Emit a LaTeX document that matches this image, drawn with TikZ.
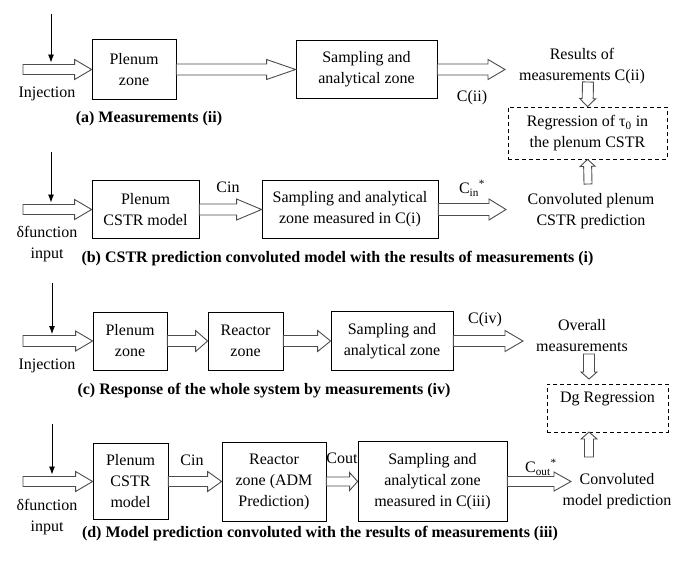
\documentclass[tikz,border=0pt]{standalone}
\usepackage{fontspec}
\setmainfont{Liberation Serif}
\usepackage{tikz}
\usetikzlibrary{arrows.meta}
\usetikzlibrary{calc}

\begin{document}
\begin{tikzpicture}[x=1pt, y=-1pt, font=\fontsize{16pt}{21pt}\selectfont]
      \tikzstyle{box}=[draw=black, line width=0.8pt, align=center, inner sep=2pt]
      \tikzstyle{regbox}=[box, dash pattern=on 4pt off 3pt]
      \tikzstyle{txt}=[align=center, inner sep=1pt]
      \tikzstyle{title}=[font=\fontsize{16pt}{21pt}\selectfont\bfseries, inner sep=1pt]
      \tikzstyle{drop}=[-{Latex[length=8pt,width=6pt]}, line width=0.8pt]
      \tikzset{hollow/.style n args={3}{draw=black!70, line width=0.9pt, fill=white,
        to path={($(\tikztostart)!#1!90:(\tikztotarget)$)
          -- ($(\tikztotarget)!#3!(\tikztostart)!#1!90:(\tikztotarget)$)
          -- ($(\tikztotarget)!#3!(\tikztostart)!#2!90:(\tikztotarget)$)
          -- (\tikztotarget)
          -- ($(\tikztotarget)!#3!(\tikztostart)!#2!-90:(\tikztotarget)$)
          -- ($(\tikztotarget)!#3!(\tikztostart)!#1!-90:(\tikztotarget)$)
          -- ($(\tikztostart)!#1!-90:(\tikztotarget)$) -- cycle}}}
      \tikzstyle{fat}=[hollow={5pt}{10pt}{17pt}]
      \useasboundingbox (0,0) rectangle (700,573);

      % (a)
      \node[box, minimum width=84pt, minimum height=60pt] (pa) at (134,69.5) {Plenum\\zone};
      \node[box, minimum width=141pt, minimum height=58pt] (sa) at (366.5,69.5) {Sampling and\\analytical zone};
      \node[txt] (res) at (582,66) {Results of\\measurements C(ii)};
      \node[regbox, minimum width=159pt, minimum height=52pt] (tau) at (587.5,133) {Regression of τ\textsubscript{0} in\\the plenum CSTR};
      \node[txt] (inja) at (47,94) {Injection};
      \node[txt] (cii) at (472,98) {C(ii)};
      \node[title] (capa) at (149,119) {(a) Measurements (ii)};
      \coordinate (ina) at (23,69.5);
      \coordinate (dropa) at (51,14);
      \coordinate (hita) at (51,62.5);
      \coordinate (outa) at (505,69.5);
      \coordinate (resdown) at (588,82);
      \draw[drop] (dropa) -- (hita);
      \draw[fat] (ina) to (pa.west);
      \draw[hollow={5.5pt}{10pt}{29pt}] (pa.east) to (sa.west);
      \draw[hollow={5.5pt}{10pt}{17pt}] (sa.east) to (outa);
      \draw[hollow={5.5pt}{8pt}{8pt}] (resdown) to (tau.north);

      % (b)
      \node[box, minimum width=107pt, minimum height=58pt] (pb) at (145.5,209.5) {Plenum\\CSTR model};
      \node[box, minimum width=176pt, minimum height=58pt] (sb) at (350,209.5) {Sampling and analytical\\zone measured in C(i)};
      \node[txt] (conb) at (591,211.5) {Convoluted plenum\\CSTR prediction};
      \node[txt] (delb) at (47,244.5) {δfunction\\input};
      \node[txt] (cinb) at (228,187) {Cin};
      \node[txt] (cinsb) at (472,188) {C\textsubscript{in}\textsuperscript{*}};
      \node[title] (capb) at (337.5,259) {(b) CSTR prediction convoluted model with the results of measurements (i)};
      \coordinate (inb) at (23,209.5);
      \coordinate (dropb) at (51,152);
      \coordinate (hitb) at (51,202.5);
      \coordinate (outb) at (506,209.5);
      \coordinate (conbup) at (588,184);
      \draw[drop] (dropb) -- (hitb);
      \draw[fat] (inb) to (pb.west);
      \draw[hollow={5.5pt}{10.5pt}{25pt}] (pb.east) to (sb.west);
      \draw[hollow={6pt}{10.5pt}{17pt}] (sb.east) to (outb);
      \draw[hollow={4pt}{7.5pt}{7pt}] (conbup) to (tau.south);

      % (c)
      \node[box, minimum width=74pt, minimum height=58pt] (pc) at (130,341) {Plenum\\zone};
      \node[box, minimum width=75pt, minimum height=58pt] (rc) at (245.5,341) {Reactor\\zone};
      \node[box, minimum width=122pt, minimum height=59pt] (scc) at (392,341) {Sampling and\\analytical zone};
      \node[txt] (ovc) at (582,336) {Overall\\measurements};
      \node[regbox, minimum width=121pt, minimum height=48pt] (dg) at (607.5,408) {Dg Regression\\~};
      \node[txt] (injc) at (47,366) {Injection};
      \node[txt] (civ) at (485,320) {C(iv)};
      \node[title] (capc) at (264,391) {(c) Response of the whole system by measurements (iv)};
      \coordinate (inc) at (23,341);
      \coordinate (dropc) at (52,283);
      \coordinate (hitc) at (52,334);
      \coordinate (outc) at (523,341);
      \coordinate (ovcdown) at (589,354);
      \coordinate (dgtop) at (589,379);
      \coordinate (dgbot) at (589,432);
      \draw[drop] (dropc) -- (hitc);
      \draw[hollow={5.5pt}{10pt}{17pt}] (inc) to (pc.west);
      \draw[hollow={5.5pt}{10.5pt}{12pt}] (pc.east) to (rc.west);
      \draw[hollow={5.5pt}{10.5pt}{13pt}] (rc.east) to (scc.west);
      \draw[hollow={5.5pt}{10.5pt}{18pt}] (scc.east) to (outc);
      \draw[hollow={5.5pt}{8pt}{7pt}] (ovcdown) to (dgtop);

      % (d)
      \node[box, minimum width=75pt, minimum height=76pt] (pd) at (130.5,481.5) {Plenum\\CSTR\\model};
      \node[box, minimum width=104pt, minimum height=79pt] (rd) at (274,481.5) {Reactor\\zone (ADM\\Prediction)};
      \node[box, minimum width=149pt, minimum height=80pt] (sd) at (432.5,481.5) {Sampling and\\analytical zone\\measured in C(iii)};
      \node[txt] (cond) at (617,491) {Convoluted\\model prediction};
      \node[txt] (deld) at (47,517) {δfunction\\input};
      \node[txt] (cind) at (192,460) {Cin};
      \node[txt] (coutd) at (342,458) {Cout};
      \node[txt] (coutsd) at (541,467) {C\textsubscript{out}\textsuperscript{*}};
      \node[title] (capd) at (320,534) {(d) Model prediction convoluted with the results of measurements (iii)};
      \coordinate (ind) at (23,481.5);
      \coordinate (dropd) at (52,424);
      \coordinate (hitd) at (52,474.5);
      \coordinate (outd) at (571,481.5);
      \coordinate (condup) at (589,457);
      \draw[drop] (dropd) -- (hitd);
      \draw[fat] (ind) to (pd.west);
      \draw[hollow={5pt}{10pt}{14pt}] (pd.east) to (rd.west);
      \draw[hollow={4.5pt}{9pt}{8pt}] (rd.east) to (sd.west);
      \draw[hollow={5pt}{9.5pt}{17pt}] (sd.east) to (outd);
      \draw[hollow={4.5pt}{8pt}{7pt}] (condup) to (dgbot);
    \end{tikzpicture}
\end{document}
